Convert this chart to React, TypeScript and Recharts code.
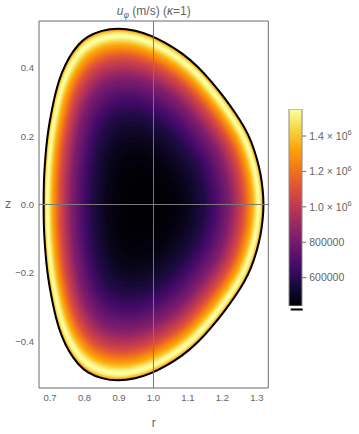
import React from 'react'
import { ScatterChart, Scatter, XAxis, YAxis, BarChart, Bar } from 'recharts'

const boundaryR = [
  1.32, 1.317, 1.311, 1.3, 1.284, 1.263, 1.238, 1.208, 1.168, 1.13, 1.084, 1.034, 0.994, 0.948,
  0.897, 0.849, 0.808, 0.782, 0.755, 0.733, 0.717, 0.703, 0.695, 0.689, 0.685, 0.682, 0.681,
  0.682, 0.685, 0.689, 0.695, 0.703, 0.717, 0.733, 0.755, 0.782, 0.808, 0.849, 0.897, 0.948,
  0.994, 1.034, 1.084, 1.13, 1.168, 1.208, 1.238, 1.263, 1.284, 1.3, 1.311, 1.317,
]
const boundaryZ = [
  0, 0.045, 0.09, 0.135, 0.185, 0.228, 0.267, 0.31, 0.36, 0.403, 0.443, 0.474, 0.494, 0.51,
  0.517, 0.51, 0.492, 0.469, 0.432, 0.385, 0.334, 0.266, 0.22, 0.17, 0.12, 0.072, 0,
  -0.072, -0.12, -0.17, -0.22, -0.266, -0.334, -0.385, -0.432, -0.469, -0.492, -0.51, -0.517, -0.51,
  -0.494, -0.474, -0.443, -0.403, -0.36, -0.31, -0.267, -0.228, -0.185, -0.135, -0.09, -0.045,
]

// the contours are nested round this point (darkest spot)
const centerR = 0.97
const centerZ = 0

// u_phi (m/s) per contour, level = fraction of the way from the centre to the boundary
const levelS = [
  1.0, 0.99, 0.98, 0.97, 0.96, 0.95, 0.94, 0.93, 0.92, 0.91, 0.9, 0.89, 0.88, 0.87, 0.86, 0.85,
  0.84, 0.83, 0.82, 0.81, 0.8, 0.79, 0.78, 0.77, 0.76, 0.75, 0.74, 0.73, 0.72, 0.71, 0.7, 0.68,
  0.66, 0.64, 0.62, 0.6, 0.58, 0.56, 0.54, 0.52, 0.5, 0.47, 0.44, 0.41, 0.38, 0.35, 0.31, 0.27,
  0.22, 0.17,
]
const levelU = [
  1219000, 1397000, 1497000, 1541000, 1552000, 1519000, 1475000, 1419000, 1375000, 1330000,
  1297000, 1263000, 1230000, 1197000, 1163000, 1130000, 1108000, 1074000, 1052000, 1030000,
  1007000, 985000, 963000, 941000, 918000, 896000, 874000, 852000, 841000, 818000, 807000,
  774000, 745000, 722000, 694000, 671000, 648000, 626000, 604000, 582000, 568000, 546000,
  524000, 506000, 489000, 476000, 464000, 455000, 448000, 443000,
]

const uMin = 440000
const uMax = 1552500

// the two grey guide lines through r = 1 and z = 0
const guideR = [{ r: 1, z: -0.537 }, { r: 1, z: 0.537 }]
const guideZ = [{ r: 0.668, z: 0 }, { r: 1.333, z: 0 }]

const rTicks = [0.7, 0.8, 0.9, 1.0, 1.1, 1.2, 1.3]
const rMinorTicks = [
  0.68, 0.72, 0.74, 0.76, 0.78, 0.82, 0.84, 0.86, 0.88, 0.92, 0.94, 0.96, 0.98, 1.02, 1.04,
  1.06, 1.08, 1.12, 1.14, 1.16, 1.18, 1.22, 1.24, 1.26, 1.28, 1.32,
]
const zTicks = [-0.4, -0.2, 0, 0.2, 0.4]
const zMinorTicks = [
  -0.5, -0.45, -0.35, -0.3, -0.25, -0.15, -0.1, -0.05, 0.05, 0.1, 0.15, 0.25, 0.3, 0.35, 0.45, 0.5,
]
const cbarTicks = [600000, 800000, 1000000, 1200000, 1400000]
const cbarMinorTicks = [
  450000, 500000, 550000, 650000, 700000, 750000, 850000, 900000, 950000, 1050000, 1100000,
  1150000, 1250000, 1300000, 1350000, 1450000, 1500000, 1550000,
]

// inferno colour map
const inferno = [
  '#000004', '#160b39', '#420a68', '#6a176e', '#932667', '#bc3754',
  '#dd513a', '#f37819', '#fca50a', '#f6d746', '#fcffa4',
]

const W = 359
const H = 434
const frame = '#6b6b6b'
const textGray = '#646464'
const font = '"Liberation Sans", Arial, sans-serif'
const rDomain = [0.668, 1.333]
const zDomain = [-0.537, 0.537]
const thin = 0.01

const hexToRgb = (h: string) => [1, 3, 5].map((i) => parseInt(h.slice(i, i + 2), 16))

const colorAt = (u: number) => {
  const t = Math.max(0, Math.min(1, (u - uMin) / (uMax - uMin))) * (inferno.length - 1)
  const i = Math.min(Math.floor(t), inferno.length - 2)
  const f = t - i
  const a = hexToRgb(inferno[i])
  const b = hexToRgb(inferno[i + 1])
  const c = a.map((v, k) => Math.round(v + (b[k] - v) * f))
  return `rgb(${c[0]},${c[1]},${c[2]})`
}

const contour = (s: number) =>
  boundaryR.map((r, i) => ({
    r: centerR + s * (r - centerR),
    z: centerZ + s * (boundaryZ[i] - centerZ),
  }))

const boundary = boundaryR.map((r, i) => ({ r, z: boundaryZ[i] }))

const noDot = () => <g />

const zLabel = (v: number) => v.toFixed(1).replace('-', '\u2212')

const CbarTick = (props: any) => {
  const { x, y, payload } = props
  const v = payload.value as number
  const common = { x, y, dy: 3.8, fontSize: 10.5, fill: textGray, fontFamily: font, textAnchor: 'start' as const }
  if (v >= 1000000) {
    return (
      <text {...common}>
        {(v / 1000000).toFixed(1)} × 10
        <tspan dy={-4.5} fontSize={7.5}>6</tspan>
      </text>
    )
  }
  return <text {...common}>{v}</text>
}

const cbarData = [{ name: 'u', range: [uMin, uMax] }]

export default function App() {
  return (
    <div style={{ position: 'absolute', left: 0, top: 0, width: W, height: H, background: '#fff' }}>
      <ScatterChart width={W} height={H} margin={{ top: 21, right: 90.7, bottom: 0, left: 0 }}>
        <XAxis
          xAxisId="b"
          dataKey="r"
          type="number"
          domain={rDomain}
          allowDataOverflow
          ticks={rTicks}
          interval={0}
          height={46}
          tickLine={false}
          axisLine={false}
          tickSize={0}
          tickMargin={6}
          tickFormatter={(v) => v.toFixed(1)}
          tick={{ fontSize: 9.5, fill: textGray, fontFamily: font }}
        />
        <XAxis xAxisId="bm" type="number" domain={rDomain} allowDataOverflow ticks={rTicks} interval={0}
          mirror height={thin} tickSize={5} tick={false} tickLine={{ stroke: frame }} axisLine={{ stroke: frame }} />
        <XAxis xAxisId="bmm" type="number" domain={rDomain} allowDataOverflow ticks={rMinorTicks} interval={0}
          mirror height={thin} tickSize={3} tick={false} tickLine={{ stroke: frame }} axisLine={false} />
        <XAxis xAxisId="t" orientation="top" type="number" domain={rDomain} allowDataOverflow ticks={rTicks} interval={0}
          mirror height={thin} tickSize={5} tick={false} tickLine={{ stroke: frame }} axisLine={{ stroke: frame }} />
        <XAxis xAxisId="tm" orientation="top" type="number" domain={rDomain} allowDataOverflow ticks={rMinorTicks} interval={0}
          mirror height={thin} tickSize={3} tick={false} tickLine={{ stroke: frame }} axisLine={false} />
        <YAxis
          yAxisId="l"
          dataKey="z"
          type="number"
          domain={zDomain}
          allowDataOverflow
          ticks={zTicks}
          interval={0}
          width={39}
          tickLine={false}
          axisLine={false}
          tickSize={0}
          tickMargin={5}
          tickFormatter={zLabel}
          tick={{ fontSize: 9.5, fill: textGray, fontFamily: font }}
        />
        <YAxis yAxisId="lm" type="number" domain={zDomain} allowDataOverflow ticks={zTicks} interval={0}
          mirror width={thin} tickSize={5} tick={false} tickLine={{ stroke: frame }} axisLine={{ stroke: frame }} />
        <YAxis yAxisId="lmm" type="number" domain={zDomain} allowDataOverflow ticks={zMinorTicks} interval={0}
          mirror width={thin} tickSize={3} tick={false} tickLine={{ stroke: frame }} axisLine={false} />
        <YAxis yAxisId="r" orientation="right" type="number" domain={zDomain} allowDataOverflow ticks={zTicks} interval={0}
          mirror width={thin} tickSize={5} tick={false} tickLine={{ stroke: frame }} axisLine={{ stroke: frame }} />
        <YAxis yAxisId="rm" orientation="right" type="number" domain={zDomain} allowDataOverflow ticks={zMinorTicks} interval={0}
          mirror width={thin} tickSize={3} tick={false} tickLine={{ stroke: frame }} axisLine={false} />

        {levelS.map((s, k) => {
          const c = colorAt(levelU[k])
          return (
            <Scatter
              key={`lvl-${k}`}
              xAxisId="b"
              yAxisId="l"
              data={contour(s)}
              shape={noDot}
              line={{ fill: c, stroke: c, strokeWidth: 0.4 }}
              lineType="joint"
              lineJointType="basisClosed"
              legendType="none"
              isAnimationActive={false}
            />
          )
        })}
        <Scatter
          xAxisId="b"
          yAxisId="l"
          data={boundary}
          shape={noDot}
          line={{ fill: 'none', stroke: '#000', strokeWidth: 2 }}
          lineType="joint"
          lineJointType="basisClosed"
          legendType="none"
          isAnimationActive={false}
        />
        {[guideR, guideZ].map((g, k) => (
          <Scatter
            key={`guide-${k}`}
            xAxisId="b"
            yAxisId="l"
            data={g}
            shape={noDot}
            line={{ fill: 'none', stroke: '#7a7a7a', strokeWidth: 1 }}
            lineType="joint"
            lineJointType="linear"
            legendType="none"
            isAnimationActive={false}
          />
        ))}
      </ScatterChart>

      <div style={{ position: 'absolute', left: 0, top: 0 }}>
        <BarChart
          width={W}
          height={H}
          data={cbarData}
          margin={{ top: 109, right: 56.7, bottom: 128, left: 289 }}
          barCategoryGap={0}
          barGap={0}
        >
          <defs>
            <linearGradient id="infernoBar" x1="0" y1="1" x2="0" y2="0">
              {inferno.map((c, i) => (
                <stop key={c} offset={i / (inferno.length - 1)} stopColor={c} />
              ))}
            </linearGradient>
          </defs>
          <XAxis dataKey="name" hide />
          <YAxis
            yAxisId="cb"
            orientation="right"
            type="number"
            domain={[uMin, uMax]}
            allowDataOverflow
            width={thin}
            ticks={cbarTicks}
            interval={0}
            tickSize={4}
            tickMargin={3}
            tickLine={{ stroke: frame }}
            axisLine={false}
            tick={CbarTick}
          />
          <YAxis
            yAxisId="cbm"
            orientation="right"
            type="number"
            domain={[uMin, uMax]}
            allowDataOverflow
            width={thin}
            ticks={cbarMinorTicks}
            interval={0}
            tickSize={2.5}
            tick={false}
            tickLine={{ stroke: frame }}
            axisLine={false}
          />
          <Bar yAxisId="cb" dataKey="range" fill="url(#infernoBar)" stroke="#8a8a8a" strokeWidth={1} isAnimationActive={false} />
        </BarChart>
      </div>

      <svg width={W} height={H} style={{ position: 'absolute', left: 0, top: 0, pointerEvents: 'none' }}>
        <text x={153.7} y={15} textAnchor="middle" fontSize={12} fill={textGray} fontFamily={font}>
          <tspan fontStyle="italic">u</tspan>
          <tspan fontStyle="italic" fontSize={8.5} dy={3}>φ</tspan>
          <tspan dy={-3}> (m/s) (</tspan>
          <tspan fontStyle="italic">κ</tspan>
          <tspan>=1)</tspan>
        </text>
        <text x={153.7} y={427} textAnchor="middle" fontSize={12} fill={textGray} fontFamily={font}>r</text>
        <text x={8} y={208} textAnchor="middle" fontSize={12} fill={textGray} fontFamily={font}>z</text>
        <rect x={290.7} y={308.5} width={12} height={2} fill="#000" />
      </svg>
    </div>
  )
}
